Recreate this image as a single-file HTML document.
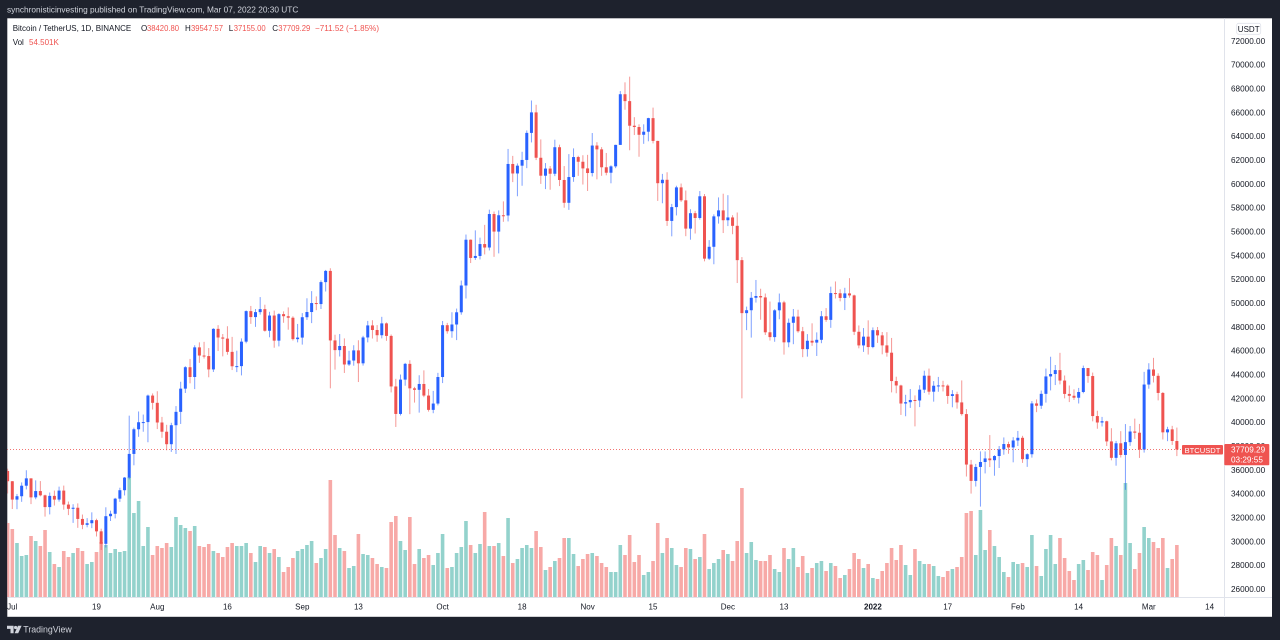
<!DOCTYPE html>
<html>
<head>
<meta charset="utf-8">
<style>
html,body{margin:0;padding:0;}
body{width:1280px;height:640px;background:#1e222d;overflow:hidden;font-family:"Liberation Sans",Arial,sans-serif;}
svg{position:absolute;left:0;top:0;}
text{font-family:"Liberation Sans",Arial,sans-serif;}
</style>
</head>
<body>
<svg width="1280" height="640" viewBox="0 0 1280 640" xmlns="http://www.w3.org/2000/svg">
  <defs>
    <clipPath id="pane"><rect x="7.3" y="18.3" width="1216.7" height="578.7"/></clipPath>
  </defs>
  <rect x="0" y="0" width="1280" height="640" fill="#1e222d"/>
  <text x="7" y="12.5" font-size="8.3" fill="#d1d4dc">synchronisticinvesting published on TradingView.com, Mar 07, 2022 20:30 UTC</text>
  <rect x="7.3" y="18.3" width="1264.7" height="598.5" fill="#ffffff"/>

  <g clip-path="url(#pane)">
    <g id="vol"></g>
    <g id="wicks"></g>
    <g id="bodies"></g>
    <line x1="7" y1="449.5" x2="1224" y2="449.5" stroke="#ef5350" stroke-width="1" stroke-dasharray="1 2" opacity="0.8"/>
  </g>

  <line x1="1224.5" y1="18.3" x2="1224.5" y2="617" stroke="#e0e3eb" stroke-width="1"/>
  <line x1="7.3" y1="597.5" x2="1272" y2="597.5" stroke="#e0e3eb" stroke-width="1"/>

  <g font-size="8">
    <text x="12.7" y="31" fill="#131722">Bitcoin / TetherUS, 1D, BINANCE</text>
    <text x="141" y="31" fill="#131722">O</text>
    <text x="147" y="31" fill="#ef5350" textLength="32" lengthAdjust="spacingAndGlyphs">38420.80</text>
    <text x="185" y="31" fill="#131722">H</text>
    <text x="191" y="31" fill="#ef5350" textLength="32" lengthAdjust="spacingAndGlyphs">39547.57</text>
    <text x="228.7" y="31" fill="#131722">L</text>
    <text x="233.7" y="31" fill="#ef5350" textLength="32" lengthAdjust="spacingAndGlyphs">37155.00</text>
    <text x="272.3" y="31" fill="#131722">C</text>
    <text x="278.3" y="31" fill="#ef5350" textLength="32" lengthAdjust="spacingAndGlyphs">37709.29</text>
    <text x="315" y="31" fill="#ef5350" textLength="64" lengthAdjust="spacingAndGlyphs">−711.52 (−1.85%)</text>
    <text x="12.7" y="45" fill="#131722">Vol</text>
    <text x="29" y="45" fill="#ef5350">54.501K</text>
  </g>

  <g font-size="8.2" fill="#131722">
    <text x="1231" y="43.9">72000.00</text>
    <text x="1231" y="67.7">70000.00</text>
    <text x="1231" y="91.5">68000.00</text>
    <text x="1231" y="115.4">66000.00</text>
    <text x="1231" y="139.2">64000.00</text>
    <text x="1231" y="163.0">62000.00</text>
    <text x="1231" y="186.9">60000.00</text>
    <text x="1231" y="210.7">58000.00</text>
    <text x="1231" y="234.5">56000.00</text>
    <text x="1231" y="258.4">54000.00</text>
    <text x="1231" y="282.2">52000.00</text>
    <text x="1231" y="306.0">50000.00</text>
    <text x="1231" y="329.8">48000.00</text>
    <text x="1231" y="353.7">46000.00</text>
    <text x="1231" y="377.5">44000.00</text>
    <text x="1231" y="401.3">42000.00</text>
    <text x="1231" y="425.2">40000.00</text>
    <text x="1231" y="449.0">38000.00</text>
    <text x="1231" y="472.8">36000.00</text>
    <text x="1231" y="496.7">34000.00</text>
    <text x="1231" y="520.5">32000.00</text>
    <text x="1231" y="544.3">30000.00</text>
    <text x="1231" y="568.1">28000.00</text>
    <text x="1231" y="592.0">26000.00</text>
  </g>
  <rect x="1236.7" y="23.3" width="24" height="11" rx="2" fill="#ffffff" stroke="#e0e3eb" stroke-width="0.8"/>
  <text x="1248.7" y="31.8" font-size="8" fill="#131722" text-anchor="middle">USDT</text>

  <rect x="1182" y="445" width="41" height="9.5" rx="1" fill="#ef5350"/>
  <text x="1202.5" y="452.8" font-size="7.6" fill="#ffffff" text-anchor="middle">BTCUSDT</text>
  <rect x="1224.3" y="444" width="45" height="21.3" rx="1" fill="#ef5350"/>
  <text x="1231" y="452.6" font-size="8.2" fill="#ffffff">37709.29</text>
  <text x="1231" y="462.3" font-size="8.2" fill="#ffffff">03:29:55</text>

  <g font-size="8" fill="#131722" text-anchor="middle">
    <text x="12.3" y="609.5">Jul</text>
    <text x="96.5" y="609.5">19</text>
    <text x="157.3" y="609.5">Aug</text>
    <text x="227.4" y="609.5">16</text>
    <text x="302.3" y="609.5">Sep</text>
    <text x="358.4" y="609.5">13</text>
    <text x="442.6" y="609.5">Oct</text>
    <text x="522.1" y="609.5">18</text>
    <text x="587.6" y="609.5">Nov</text>
    <text x="653.0" y="609.5">15</text>
    <text x="727.9" y="609.5">Dec</text>
    <text x="784.0" y="609.5">13</text>
    <text x="872.9" y="609.5" font-weight="bold">2022</text>
    <text x="947.7" y="609.5">17</text>
    <text x="1017.9" y="609.5">Feb</text>
    <text x="1078.6" y="609.5">14</text>
    <text x="1148.8" y="609.5">Mar</text>
    <text x="1209.6" y="609.5">14</text>
  </g>

  <g fill="#d1d4dc">
    <path d="M7 625.8h6.6v7.4h-3.1v-4.3H7z"/>
    <circle cx="15.6" cy="627.5" r="1.6"/>
    <path d="M18 625.8h3.6l-3.4 7.4h-3.6z"/>
  </g>
  <text x="23.3" y="632.4" font-size="8.8" fill="#d1d4dc">TradingView</text>
</svg>

<script>
(function(){
var D=[
36100,34017,35045,74,
35057,32711,33504,68,
33977,32699,33787,54,
34945,33316,34669,41,
35967,34357,35287,42,
35284,33125,33690,61,
35118,33532,34220,56,
35059,33777,33862,51,
33917,32077,32875,67,
34100,32261,33815,45,
34262,33004,33502,33,
34592,33332,34259,30,
34679,32658,33087,46,
33340,32202,32730,40,
33114,31550,32820,44,
33185,31133,31880,49,
32249,31020,31383,46,
31949,31179,31521,33,
32435,31108,31778,35,
31899,30407,30839,45,
31063,29278,29791,55,
32858,29482,32110,52,
32575,31708,32313,44,
33650,31925,33582,48,
34500,33309,34292,45,
35398,33851,35350,46,
40550,35205,37337,120,
39542,36383,39406,84,
40900,38772,39996,96,
40640,39200,40009,51,
42316,38316,42235,70,
42414,41064,41626,42,
42599,39422,39974,51,
40444,38690,39201,49,
39780,37642,38152,54,
39950,37509,39747,50,
41350,37332,40869,80,
43392,39853,42816,72,
44700,42450,44614,69,
45310,43261,43792,66,
46456,42779,46280,71,
46700,44980,45594,51,
46743,45341,45551,50,
46218,43770,44428,53,
47886,44217,47834,46,
48144,45971,47109,44,
47400,45525,47014,40,
48053,45660,45902,50,
47160,44376,44695,54,
46000,44203,44706,51,
47033,43927,46760,51,
49382,46622,49322,54,
49757,48253,48822,44,
49500,48000,49239,35,
50500,49029,49488,51,
49860,47600,47674,50,
49264,47126,48952,44,
49368,46250,46844,48,
49149,46361,49069,40,
49299,48345,48895,25,
49632,47762,48767,30,
48888,46853,46970,39,
48246,46700,47100,46,
49156,46512,48810,48,
50400,48584,49246,52,
51000,48316,49999,56,
50558,49400,49915,34,
51900,49500,51757,39,
52780,50969,52697,48,
52920,42843,46863,117,
47340,44413,46048,62,
47399,45513,46395,49,
47033,44132,44842,46,
45987,44722,45173,29,
46460,44742,46026,31,
46876,43370,44941,63,
47250,44750,47112,43,
48500,46700,48121,42,
48557,47021,47737,39,
48150,46750,47299,33,
48843,47035,48292,30,
48372,46829,47241,29,
47360,42500,42999,75,
43640,39600,40693,81,
44000,40565,43574,56,
44978,43063,44896,47,
45200,40675,42840,80,
42966,41646,42717,33,
43940,40803,43208,48,
44350,42098,42235,39,
42787,40889,41034,42,
42625,40753,41564,32,
44141,41410,43791,44,
48495,43283,48141,63,
48336,47430,47634,29,
49228,47088,48200,30,
49536,46891,49224,44,
51886,49022,51472,50,
55750,50382,55315,76,
55338,53357,53785,52,
56100,53617,53951,44,
55489,53661,54950,53,
56561,54080,54659,85,
57839,54415,57471,51,
57680,53879,55996,51,
57777,54167,57367,54,
58532,56818,57347,41,
62933,56850,61672,79,
62350,60150,60875,34,
61718,58963,61528,38,
62695,59844,62009,49,
64486,61322,64280,52,
67000,63481,66001,49,
66639,62000,62193,66,
63732,60000,60688,50,
61747,59562,61286,27,
61500,59510,60852,30,
63710,60650,63078,36,
63293,59817,60328,39,
61496,58000,58413,59,
62499,57820,60575,59,
62980,60174,62253,43,
62359,60673,61859,31,
62405,59945,61300,38,
62437,59405,60911,43,
64270,60624,63219,44,
63500,60382,62897,41,
63086,60677,61395,34,
62595,60721,60937,30,
61560,60050,61470,25,
63286,61322,63273,25,
67789,63273,67525,52,
68524,66222,66947,42,
69000,62822,64882,62,
65600,64100,64774,35,
65000,62278,64122,42,
65000,63361,64380,22,
65550,63576,65519,25,
66401,63400,63606,36,
63617,58574,60058,74,
60840,58373,60345,44,
60976,56474,56891,59,
58320,55600,58052,49,
59845,57353,59707,32,
60029,58486,58622,30,
59444,55610,56247,49,
57875,55317,57541,48,
57735,55837,57139,38,
59398,57000,58960,40,
59150,53500,53726,63,
55281,53610,54721,28,
57445,53256,57274,34,
58865,56666,57776,38,
59176,55875,56950,47,
59053,56458,57184,43,
57374,55777,56481,36,
57600,51680,53601,56,
53859,42000,49153,109,
49700,47727,49397,44,
50929,47100,50441,55,
51936,50039,50589,37,
51200,48600,50472,36,
50800,47320,47545,36,
50125,46852,47141,42,
49485,46751,49389,28,
50797,48639,50053,25,
50189,45672,46702,49,
48700,46290,48343,38,
49500,46547,48864,49,
49436,47511,47632,30,
47995,45456,46131,41,
47392,45500,46834,24,
48300,46406,46681,29,
47537,45558,46914,34,
49328,46630,48890,36,
49576,48421,48588,26,
51375,47920,50838,34,
51810,50384,50821,31,
51156,50142,50428,19,
51281,49412,50809,22,
52088,50449,50640,28,
50704,47313,47589,44,
48119,46201,46444,38,
47900,45900,47179,29,
48548,45678,46306,33,
47954,46208,47722,19,
47990,46654,47287,18,
47570,45696,46446,26,
47557,45500,45833,34,
47070,42500,43452,49,
43817,42430,43082,37,
43145,40610,41567,52,
42300,40501,41679,32,
42786,41200,41864,22,
42248,39650,41822,48,
43100,41268,42729,36,
44322,42450,43902,33,
44500,42311,42560,33,
43448,41725,43059,31,
43800,42555,43085,21,
43475,42581,43071,20,
43176,41540,42201,26,
42691,41251,42352,28,
42559,41138,41660,30,
43505,40553,40680,40,
41100,35440,36445,84,
36835,34008,35071,86,
36499,34601,36244,42,
37550,32917,36660,87,
37545,35701,36958,47,
38919,36234,36809,67,
37234,35507,37160,51,
38000,36155,37716,40,
38720,37268,38166,25,
38360,37351,37881,20,
38744,36632,38466,35,
39265,38000,38690,33,
38855,36586,36896,34,
37387,36250,37311,30,
41772,37026,41574,62,
41913,40843,41382,31,
42656,41116,42380,21,
44500,41645,43840,48,
45492,42667,44042,62,
44799,43117,44372,33,
45821,43174,43495,59,
43920,42000,42373,39,
43079,41688,42217,26,
42760,41870,42053,17,
42876,41570,42535,33,
44751,42427,44544,37,
44549,43307,43873,27,
44164,40073,40515,45,
40959,39450,39974,42,
40444,39639,40079,17,
40125,38000,38386,32,
39494,36800,37008,59,
38429,36350,38230,51,
39249,37036,37250,42,
39843,34322,38327,114,
39683,38014,39219,54,
40300,38600,39116,28,
39855,37000,37699,44,
44225,37450,43160,70,
44949,42809,44421,59,
45400,43334,43892,55,
44102,41832,42454,49,
42527,38550,39148,59,
39613,38407,39398,29,
39693,38088,38420,38,
39547.57,37155,37709.29,52
];
function y(p){return 589-(p-26000)*0.011915;}
var prev=35908, vol='', wk='', bd='';
var n=D.length/4;
for(var i=0;i<n;i++){
  var H=D[4*i],L=D[4*i+1],C=D[4*i+2],V=D[4*i+3];
  var O=prev; prev=C;
  var x=12.3+4.677*(i-1);
  var up=C>=O;
  var col=up?'#2962ff':'#ef5350';
  vol+='<rect x="'+(x-1.8).toFixed(2)+'" y="'+(597-V).toFixed(2)+'" width="3.6" height="'+V+'" fill="'+(up?'#93d2cc':'#f7a9a7')+'"/>';
  var yh=y(H), yl=y(L);
  wk+='<rect x="'+(x-0.5).toFixed(2)+'" y="'+yh.toFixed(2)+'" width="1" height="'+(yl-yh).toFixed(2)+'" fill="'+col+'" opacity="0.6"/>';
  var t=y(Math.max(O,C)), b=y(Math.min(O,C)), h=Math.max(1,b-t);
  bd+='<rect x="'+(x-1.5).toFixed(2)+'" y="'+t.toFixed(2)+'" width="3" height="'+h.toFixed(2)+'" fill="'+col+'"/>';
}
document.getElementById('vol').innerHTML=vol;
document.getElementById('wicks').innerHTML=wk;
document.getElementById('bodies').innerHTML=bd;
})();
</script>
</body>
</html>
